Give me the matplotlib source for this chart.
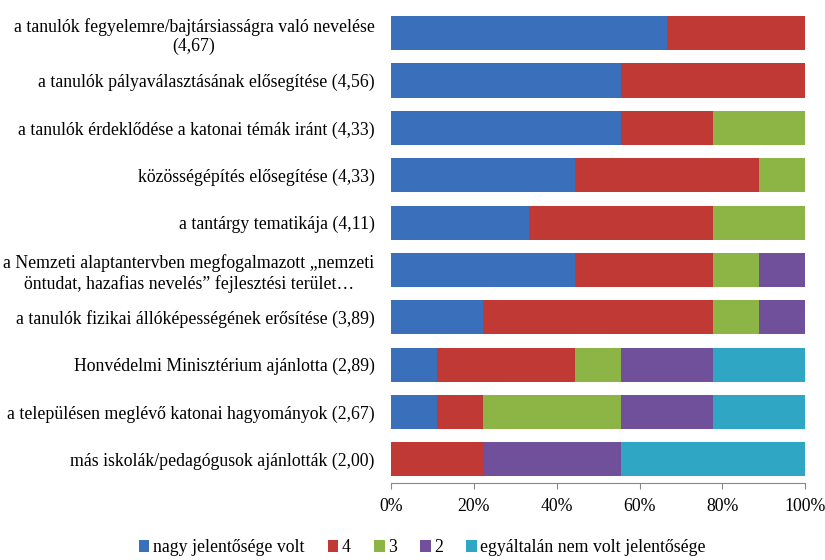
import numpy as np
import matplotlib.pyplot as plt

plt.rcParams['font.family'] = ['Liberation Serif', 'DejaVu Serif']

# answers out of 9 respondents, per category (top to bottom)
categories = [
    'a tanulók fegyelemre/bajtársiasságra való nevelése\n(4,67)',
    'a tanulók pályaválasztásának elősegítése (4,56)',
    'a tanulók érdeklődése a katonai témák iránt (4,33)',
    'közösségépítés elősegítése (4,33)',
    'a tantárgy tematikája (4,11)',
    'a Nemzeti alaptantervben megfogalmazott „nemzeti\nöntudat, hazafias nevelés” fejlesztési terület…',
    'a tanulók fizikai állóképességének erősítése (3,89)',
    'Honvédelmi Minisztérium ajánlotta (2,89)',
    'a településen meglévő katonai hagyományok (2,67)',
    'más iskolák/pedagógusok ajánlották (2,00)',
]
series = ['nagy jelentősége volt', '4', '3', '2', 'egyáltalán nem volt jelentősége']
nagy = [6, 5, 5, 4, 3, 4, 2, 1, 1, 0]
s4 = [3, 4, 2, 4, 4, 3, 5, 3, 1, 2]
s3 = [0, 0, 2, 1, 2, 1, 1, 1, 3, 0]
s2 = [0, 0, 0, 0, 0, 1, 1, 2, 2, 3]
nem = [0, 0, 0, 0, 0, 0, 0, 2, 2, 4]
colors = ['#3a70bb', '#c03934', '#8db545', '#70509a', '#2ea6c4']

data = np.array([nagy, s4, s3, s2, nem], dtype=float)
pct = data / data.sum(axis=0)
fs = 12.8

fig = plt.figure(figsize=(8.25, 5.6), dpi=100)
ax = fig.add_axes([0.474, 0.1375, 0.502, 0.8455])

y = np.arange(len(categories))
left = np.zeros(len(categories))
for vals, name, col in zip(pct, series, colors):
    ax.barh(y, vals, left=left, height=0.72, color=col, label=name)
    left += vals

ax.set_ylim(len(categories) - 0.5, -0.5)
ax.set_xlim(0, 1)
ax.set_yticks(y)
ax.set_yticklabels(categories, fontsize=fs, multialignment='center')
ax.tick_params(axis='y', length=0, pad=12)
ax.set_xticks(np.linspace(0, 1, 6))
ax.set_xticklabels(['0%', '20%', '40%', '60%', '80%', '100%'], fontsize=fs)
ax.tick_params(axis='x', direction='out', length=4, color='#888888', pad=7)
for s in ['top', 'right', 'left']:
    ax.spines[s].set_visible(False)
ax.spines['bottom'].set_color('#888888')

fig.legend(loc='center', bbox_to_anchor=(0.512, 0.022), ncol=5, frameon=False,
           fontsize=fs, handlelength=0.6, handleheight=0.6, handletextpad=0.2,
           columnspacing=1.3)

fig.savefig('out.png')
